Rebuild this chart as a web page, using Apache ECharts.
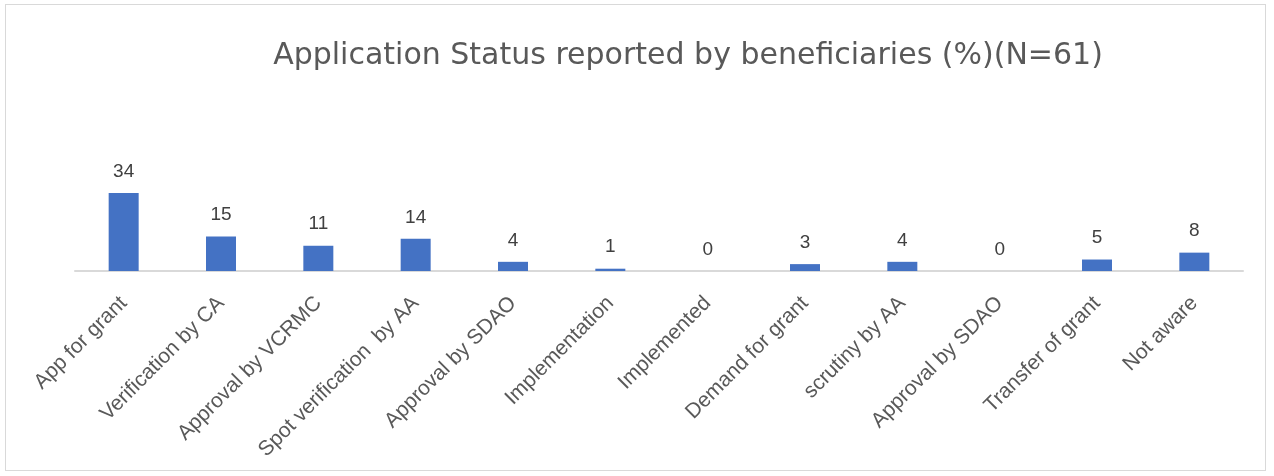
<!DOCTYPE html>
<html>
<head>
<meta charset="utf-8">
<script src="https://cdn.jsdelivr.net/npm/echarts@6/dist/echarts.min.js"></script>
<style>
  html, body { margin: 0; padding: 0; background: #fff; }
  #chart { width: 1274px; height: 476px; }
  #frame { position: absolute; left: 5px; top: 4px; width: 1261px; height: 467px; border: 1px solid #d9d9d9; pointer-events: none; box-sizing: border-box; }
</style>
</head>
<body>
<div id="chart"></div>
<div id="frame"></div>
<script>
const titleText = 'Application Status reported by beneficiaries (%)(N=61)';
const categories = ['App for grant', 'Verification by CA', 'Approval by VCRMC', 'Spot verification  by AA',
  'Approval by SDAO', 'Implementation', 'Implemented', 'Demand for grant', 'scrutiny by AA',
  'Approval by SDAO', 'Transfer of grant', 'Not aware'];
const values = [34, 15, 11, 14, 4, 1, 0, 3, 4, 0, 5, 8];

const chart = echarts.init(document.getElementById('chart'), null, { renderer: 'canvas' });
chart.setOption({
  animation: false,
  title: {
    text: titleText,
    left: 683, top: 36, textAlign: 'center',
    textStyle: { fontFamily: 'DejaVu Sans', fontWeight: 'normal', fontSize: 30, color: '#595959' }
  },
  grid: { left: 75, right: 31, top: 179.2, height: 91.8, containLabel: false },
  xAxis: {
    type: 'category',
    data: categories,
    axisLine: { lineStyle: { color: '#d9d9d9', width: 2 } },
    axisTick: { show: false },
    axisLabel: {
      interval: 0, rotate: 45, margin: 29,
      fontFamily: 'Liberation Sans', fontSize: 21, color: '#595959'
    }
  },
  yAxis: {
    type: 'value', min: 0, max: 40, show: false,
    splitLine: { show: false }
  },
  series: [{
    type: 'bar',
    data: values,
    barWidth: 30,
    itemStyle: { color: '#4472c4' },
    label: {
      show: true, position: 'top', distance: 12,
      fontFamily: 'Liberation Sans', fontSize: 19, color: '#404040'
    }
  }]
});
</script>
</body>
</html>
